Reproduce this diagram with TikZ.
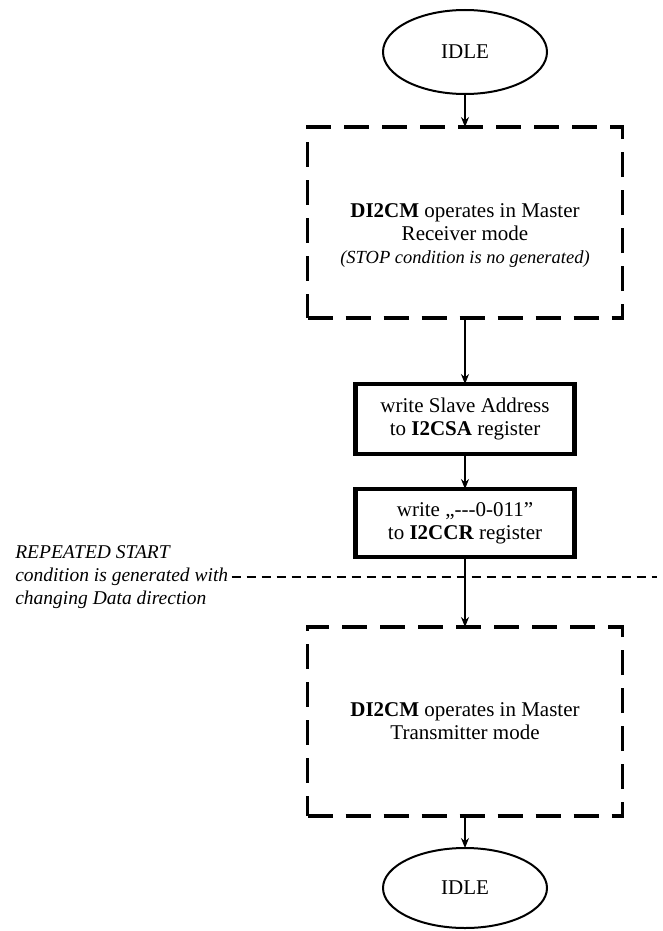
\documentclass[tikz,border=0pt]{standalone}
\usepackage{fontspec}
\setmainfont{Liberation Serif}
\usetikzlibrary{arrows.meta, positioning, shapes.geometric}

\begin{document}
\begin{tikzpicture}[
    x=1pt, y=1pt,
    >={Stealth[length=10pt, width=8pt]},
    every node/.style={outer sep=0pt, font=\fontsize{21}{23}\selectfont},
    state/.style={ellipse, draw, line width=2pt, minimum width=164pt,
        minimum height=84pt},
    mode/.style={rectangle, draw, line width=3.5pt, align=center,
        dash pattern=on 25pt off 13pt, minimum width=315pt},
    action/.style={rectangle, draw, line width=4.5pt, align=center,
        minimum width=219pt},
    note/.style={align=left, font=\fontsize{19.5}{23}\selectfont\itshape},
    flow/.style={->, line width=1.2pt}
]

    \useasboundingbox (0,0) rectangle (662,-931);

    % Nodes ------------------------------------------------------

    \node[state] (idle1) at (465,-52) {IDLE};
    \node[mode, minimum height=191pt, below=33pt of idle1] (master_rx)
        {\rule{0pt}{40pt}\textbf{DI2CM} operates in Master\\ Receiver mode\\
        {\fontsize{18.5}{21}\selectfont\itshape (STOP condition is no generated)}};
    \node[action, minimum height=70pt, below=66pt of master_rx] (write_sa)
        {write Slave Address\\ to \textbf{I2CSA} register};
    \node[action, minimum height=68pt, below=35pt of write_sa] (write_cr)
        {write „-{}-{}-0-011”\\ to \textbf{I2CCR} register};
    \node[mode, minimum height=189pt, below=70pt of write_cr] (master_tx)
        {\textbf{DI2CM} operates in Master\\ Transmitter mode};
    \node[state, minimum height=80pt, below=32pt of master_tx] (idle2) {IDLE};

    % labels
    \node[note, anchor=west] (rep_start) at (12,-577)
        {REPEATED START\\ condition is generated with\\ changing Data direction};
    \coordinate (line_end) at (657,-576);

    % Arrows ---------------------------------------------------

    \draw[flow] (idle1) -- (master_rx);
    \draw[flow] (master_rx) -- (write_sa);
    \draw[flow] (write_sa) -- (write_cr);
    \draw[flow] (write_cr) -- (master_tx);
    \draw[flow] (master_tx) -- (idle2);

    \draw[line width=1.2pt, dash pattern=on 9pt off 6pt]
        (rep_start.east) -- (rep_start.east -| line_end);

\end{tikzpicture}
\end{document}
